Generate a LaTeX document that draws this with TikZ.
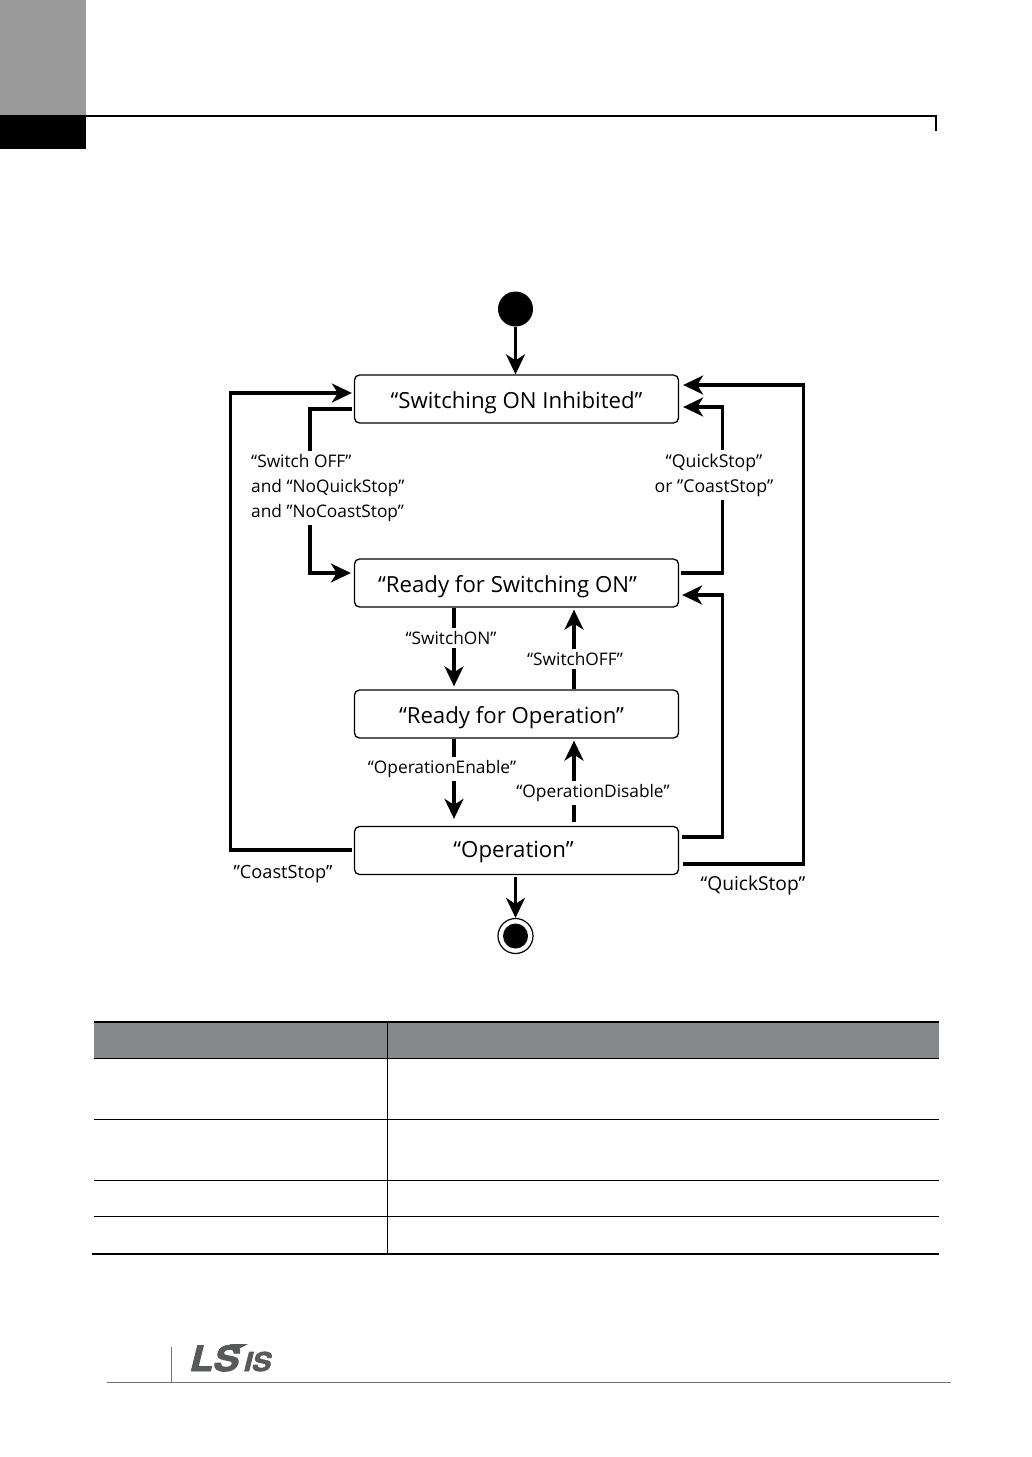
\documentclass[tikz,border=0pt]{standalone}
\usepackage{fontspec}
\setmainfont{Open Sans}
\newfontfamily\logofont[FakeSlant=0.25,FakeBold=2.5,FakeStretch=1.1]{TeX Gyre Heros}
\usetikzlibrary{arrows.meta,positioning}
\definecolor{tabgray}{HTML}{87888A}
\definecolor{pagegray}{HTML}{9A9A9A}
\definecolor{logogray}{HTML}{58595B}
\tikzset{
  statebox/.style={draw,line width=1.3pt,rounded corners=5pt,minimum width=324pt,minimum height=48pt,font=\fontsize{22.2}{28}\selectfont,inner sep=0pt,text height=24pt,text depth=6pt},
  translabel/.style={font=\fontsize{17.3}{25}\selectfont,inner sep=3pt,align=left},
  transline/.style={line width=3.2pt},
  transarrow/.style={line width=3.2pt,-{Stealth[length=20pt,width=19pt,inset=6pt]}},
  rowline/.style={line width=1pt,black},
  thickrow/.style={line width=2.2pt,black},
}
\begin{document}
\begin{tikzpicture}[x=1pt,y=-1pt]
\useasboundingbox (0,0) rectangle (1032,1457);
% Page header
\fill[pagegray] (0,0) rectangle (86,115);
\fill[black] (0,115) rectangle (86,149);
\draw[line width=2pt] (86,116) -- (936,116) -- (936,131);
% States
\node[statebox] (inhibited) at (516.5,399) {“Switching ON Inhibited”};
\node[statebox] (ready) at (516.5,583) {\hspace*{-18pt}“Ready for Switching ON”};
\node[statebox] (readyop) at (516.5,714) {\hspace*{-10pt}“Ready for Operation”};
\node[statebox,text height=19pt] (operation) at (516.5,850.5) {\hspace*{-6pt}“Operation”};
\node[circle,fill=black,minimum size=35pt,inner sep=0pt] (start) at (515.5,309) {};
\node[circle,fill=black,minimum size=25pt,inner sep=0pt] (stopdot) at (515.5,936) {};
\node[circle,draw,line width=1.2pt,minimum size=35pt,inner sep=0pt] (stop) at (515.5,936) {};
% Labels
\node[translabel,anchor=north west] (offlabel) at (248,451) {“Switch OFF”\\and “NoQuickStop”\\and ”NoCoastStop”};
\node[translabel,align=center,font=\fontsize{17.7}{25}\selectfont] (qclabel) at (714,475) {“QuickStop”\\or ”CoastStop”};
\node[translabel] (onlabel) at (451,638) {“SwitchON”};
\node[translabel] (swofflabel) at (575,659) {“SwitchOFF”};
\node[translabel] (enlabel) at (442,769) {“OperationEnable”};
\node[translabel] (dislabel) at (593,793) {“OperationDisable”};
\node[translabel,font=\fontsize{18.2}{25}\selectfont] (coastlabel) at (283,874) {”CoastStop”};
\node[translabel,font=\fontsize{19.2}{25}\selectfont] (quicklabel) at (753,886) {“QuickStop”};
% Free ends of the connectors
\coordinate (a1) at (310,409);
\coordinate (a2) at (310,573);
\coordinate (b1) at (722.5,407);
\coordinate (b2) at (722.5,573);
\coordinate (c1) at (230.5,393);
\coordinate (c2) at (230.5,850);
\coordinate (d1) at (722.5,595);
\coordinate (d2) at (722.5,837);
\coordinate (e1) at (803.5,385);
\coordinate (e2) at (803.5,864);
\coordinate (downx) at (454,0);
\coordinate (upx) at (574,0);
% Connectors
\draw[transarrow] (start) -- (inhibited.north -| start);
\draw[transarrow] ([yshift=-2pt]operation.south -| stop) -- (stop);
\draw[transline] ([xshift=-2pt]inhibited.west |- a1) -- (a1) -- (a1 |- offlabel.north);
\draw[transarrow] (a1 |- offlabel.south) -- (a2) -- ([xshift=-3pt]ready.west |- a2);
\draw[transline] ([xshift=2pt]ready.east |- b2) -- (b2) -- (b2 |- qclabel.south);
\draw[transarrow] (b1 |- qclabel.north) -- (b1) -- ([xshift=4pt]inhibited.east |- b1);
\draw[transline] (ready.south -| downx) -- (onlabel.north -| downx);
\draw[transarrow] (onlabel.south -| downx) -- ([yshift=3pt]readyop.north -| downx);
\draw[transline] (readyop.north -| upx) -- (swofflabel.south -| upx);
\draw[transarrow] (swofflabel.north -| upx) -- ([yshift=-2pt]ready.south -| upx);
\draw[transline] (readyop.south -| downx) -- (enlabel.north -| downx);
\draw[transarrow] (enlabel.south -| downx) -- ([yshift=7pt]operation.north -| downx);
\draw[transline] ([yshift=4pt]operation.north -| upx) -- (dislabel.south -| upx);
\draw[transarrow] (dislabel.north -| upx) -- ([yshift=-2pt]readyop.south -| upx);
\draw[transarrow] ([xshift=-2pt]operation.west |- c2) -- (c2) -- (c1) -- ([xshift=-2pt]inhibited.west |- c1);
\draw[transarrow] ([xshift=3pt]operation.east |- d2) -- (d2) -- (d1) -- ([xshift=3pt]ready.east |- d1);
\draw[transarrow] ([xshift=4pt]operation.east |- e2) -- (e2) -- (e1) -- ([xshift=4pt]inhibited.east |- e1);
% Table
\fill[tabgray] (94,1022) rectangle (939,1058);
\draw[thickrow] (94,1022) -- (939,1022);
\foreach \y in {1058.5,1119.5,1180.5,1216.5} {
  \draw[rowline] (94,\y) -- (939,\y);
}
\draw[thickrow] (92,1254) -- (939,1254);
\draw[rowline] (387.5,1022) -- (387.5,1254);
% Footer
\draw[line width=1pt,black!55] (107,1382) -- (951,1382);
\draw[line width=1pt,black!55] (171,1347) -- (171,1382);
\node[font=\logofont\bfseries\fontsize{35}{35}\selectfont,text=logogray,inner sep=0pt,anchor=base west] (lslogo) at (188,1371) {LS};
\node[font=\logofont\bfseries\fontsize{26}{26}\selectfont,text=logogray,inner sep=0pt,anchor=base east] (islogo) at (270,1371) {IS};
\fill[logogray] (230,1344) -- (248,1344) -- (235,1351) -- cycle;
\end{tikzpicture}
\end{document}
